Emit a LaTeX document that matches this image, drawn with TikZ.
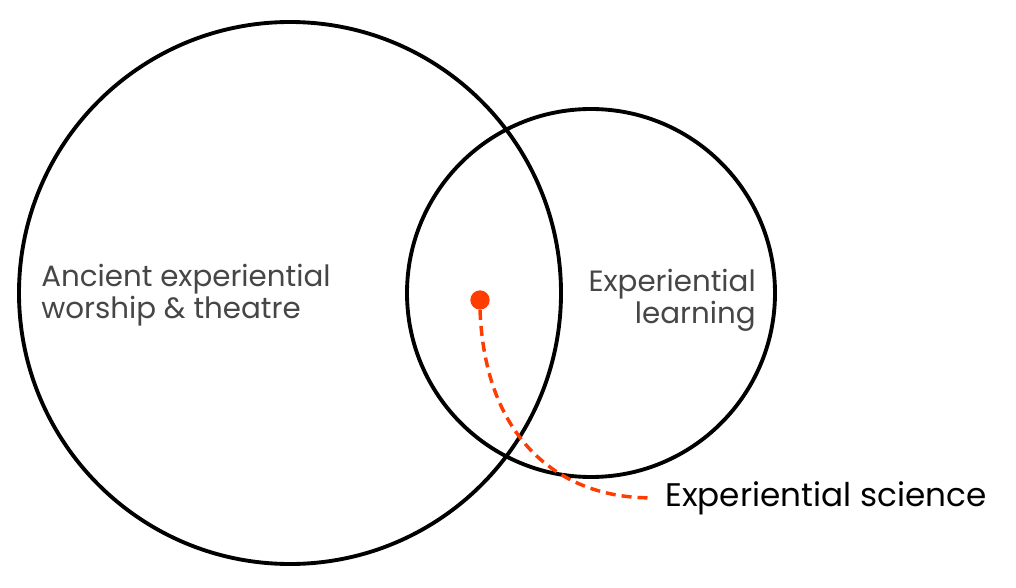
\documentclass[tikz,border=0pt]{standalone}
\usepackage{fontspec}
\setmainfont{Poppins}
\definecolor{dotred}{HTML}{FF3D00}
\definecolor{labelgray}{HTML}{464646}
\tikzset{
  ring/.style={circle,draw=black,line width=2.9pt,inner sep=0pt},
  graylabel/.style={text=labelgray,font=\fontsize{22}{24}\selectfont,inner sep=0pt},
  trail/.style={draw=dotred,line width=2.6pt,dash pattern=on 7.5pt off 4.5pt},
}
\begin{document}
\begin{tikzpicture}[x=0.75pt,y=-0.75pt]
\useasboundingbox (0,0) rectangle (1016,588);
% the two circles
\node[ring,minimum size=406.5pt] (worship) at (290,293) {};
\node[ring,minimum size=276pt] (learning) at (591,293) {};
% labels
\node[graylabel,align=left,anchor=base west] (worshiplabel) at (41,318) {Ancient experiential\\worship \& theatre};
\node[graylabel,align=right,anchor=base east] (learninglabel) at (756,323) {Experiential\\learning};
\node[font=\fontsize{24.5}{28}\selectfont,inner sep=0pt,anchor=west] (science) at (665,498) {Experiential science};
% the dot and its trail
\node[circle,fill=dotred,inner sep=0pt,minimum size=14.5pt] (dot) at (480,300) {};
\draw[trail,shorten >=12.5pt] (dot.south) .. controls (485,440) and (560,497) .. (science.west);
\end{tikzpicture}
\end{document}
